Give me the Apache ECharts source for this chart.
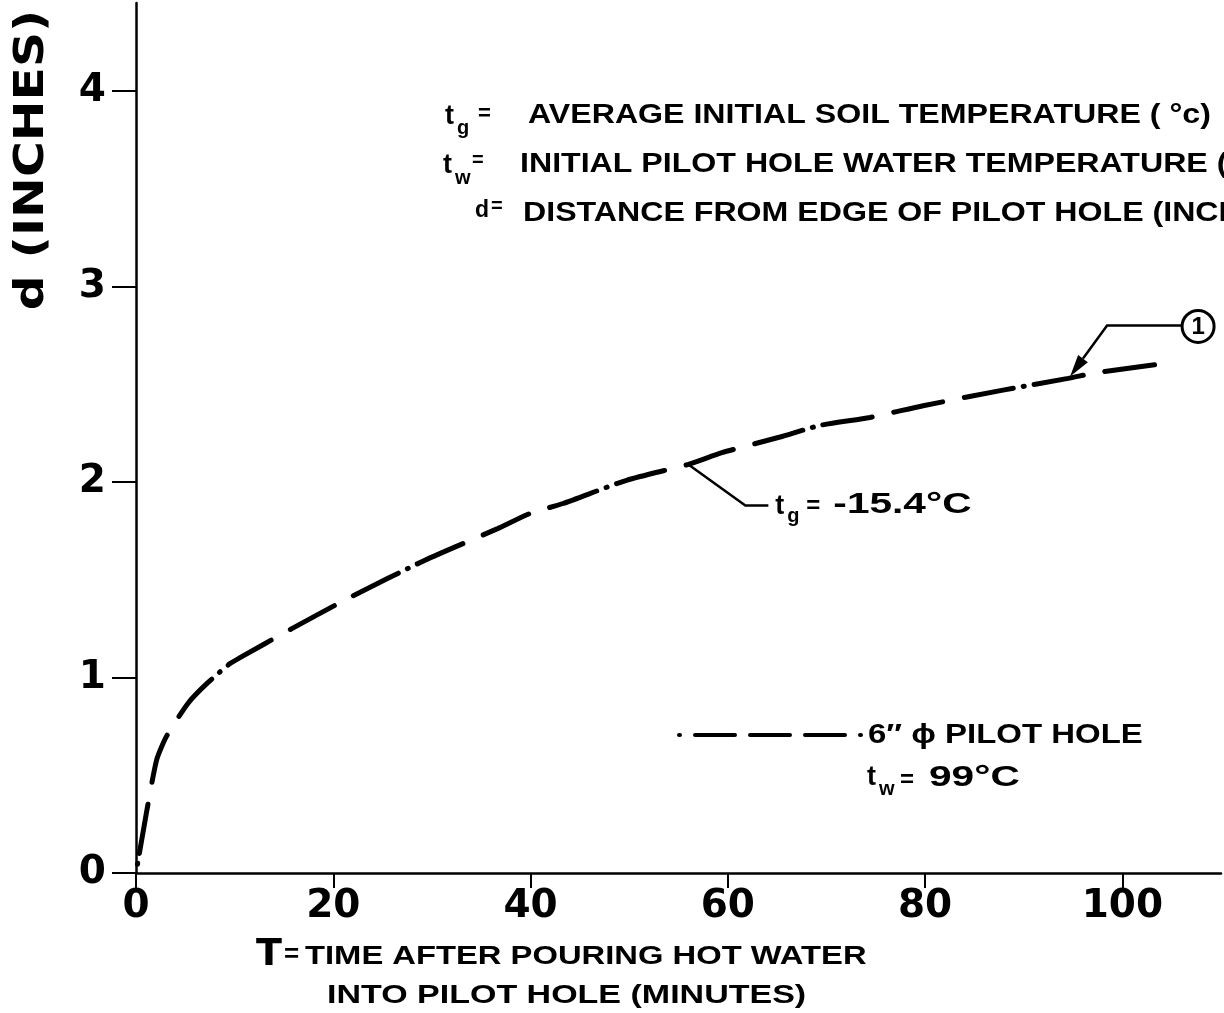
<!DOCTYPE html>
<html><head><meta charset="utf-8">
<script src="https://cdn.jsdelivr.net/npm/echarts@6/dist/echarts.min.js"></script>
<style>html,body{margin:0;padding:0;background:#fff}#c{width:1224px;height:1013px}</style>
</head><body><div id="c"></div>
<script>
// ---- data ----
const timeMin = [0, 1.1, 2.1, 3.1, 5.3, 7.2, 9.5, 10.5, 15.8, 21.7, 29.3, 36.6, 40.0, 43.3, 49.8, 56.0, 59.4, 65.3, 69.4, 74.4, 79.8, 87.9, 94.5, 97.5, 103.3];
const distIn  = [0, 0.32, 0.58, 0.70, 0.87, 0.97, 1.07, 1.10, 1.25, 1.41, 1.60, 1.76, 1.84, 1.89, 2.01, 2.09, 2.15, 2.23, 2.29, 2.33, 2.39, 2.47, 2.53, 2.56, 2.60];
const xTicks = [0, 20, 40, 60, 80, 100];
const yTicks = [0, 1, 2, 3, 4];
const seriesName = '6\u2033 \u03D5 PILOT HOLE';
const tgLabelAt = [56.0, 2.09];     // curve point the "tg = -15.4°C" leader touches
const curveTagAt = [94.7, 2.54];    // curve point the (1) arrow touches

const chart = echarts.init(document.getElementById('c'), null, {renderer: 'canvas'});
const NUMF = '"DejaVu Sans", sans-serif';
const TXTF = '"Liberation Sans", Arial, sans-serif';

chart.setOption({
  backgroundColor: '#fff',
  animation: false,
  grid: {left: 136, right: 3, top: 3, bottom: 140, containLabel: false},
  xAxis: {
    type: 'value', min: 0, max: 110, interval: 20,
    axisLine: {show: true, onZero: false, lineStyle: {color: '#000', width: 2.5}},
    axisTick: {show: true, inside: false, length: 15, customValues: xTicks, lineStyle: {color: '#000', width: 2}},
    axisLabel: {customValues: xTicks, margin: 14, color: '#000', fontFamily: NUMF, fontWeight: 'bold', fontSize: 39},
    splitLine: {show: false}
  },
  yAxis: {
    type: 'value', min: 0, max: 4.45, interval: 1,
    axisLine: {show: true, onZero: false, lineStyle: {color: '#000', width: 2.5}},
    axisTick: {show: true, inside: false, length: 24, customValues: yTicks, lineStyle: {color: '#000', width: 2}},
    axisLabel: {customValues: yTicks, margin: 30, color: '#000', fontFamily: NUMF, fontWeight: 'bold', fontSize: 39},
    splitLine: {show: false}
  },
  legend: {
    show: true, left: 672, top: 725, padding: 5, itemWidth: 186, itemHeight: 10, itemGap: 0,
    data: [seriesName],
    formatter: () => '',
    itemStyle: {opacity: 0},
    textStyle: {color: '#000', fontFamily: TXTF, fontWeight: 'bold', fontSize: 25},
    lineStyle: {type: [1, 15, 40, 15, 40, 15, 40, 15], dashOffset: 0, width: 4, cap: 'round', color: '#000'}
  },
  series: [{
    name: seriesName, type: 'line',
    data: timeMin.map((t, i) => [t, distIn[i]]),
    smooth: 0.2,
    symbol: 'none', showSymbol: false,
    lineStyle: {color: '#000', width: 5, type: [50, 22, 50, 22, 50, 10, 1, 10], dashOffset: 195, cap: 'round'},
    itemStyle: {color: '#000'}
  }]
});

function T(x, y, text, size, sx, extra) {
  return Object.assign({type: 'text', x: x, y: y, silent: true, scaleX: sx || 1, scaleY: 1,
    style: Object.assign({text: text, fill: '#000', font: 'bold ' + size + 'px ' + TXTF, verticalAlign: 'middle', align: 'left'}, extra || {})});
}

const a = chart.convertToPixel({gridIndex: 0}, tgLabelAt);
const b = chart.convertToPixel({gridIndex: 0}, curveTagAt);
// arrowhead geometry
const kx = b[0] + 37, ky = b[1] - 51;
let dx = b[0] - kx, dy = b[1] - ky; const L = Math.hypot(dx, dy); dx /= L; dy /= L;
const al = 22, aw = 6;
const bx = b[0] - al * dx, by = b[1] - al * dy;

const g = [
  // top definitions
  T(445, 117, 't', 27), T(457, 128, 'g', 20), T(478, 114, '=', 22),
  T(528, 116, 'AVERAGE INITIAL SOIL TEMPERATURE ( \u00B0c)', 27, 1.19),
  T(443, 166, 't', 27), T(455, 178, 'w', 20), T(472, 160, '=', 20),
  T(520, 165, 'INITIAL PILOT HOLE WATER TEMPERATURE (\u00B0C)', 27, 1.19),
  T(475, 211, 'd', 23), T(491, 206, '=', 20),
  T(523, 214, 'DISTANCE FROM EDGE OF PILOT HOLE (INCHES)', 27, 1.19),
  // y name
  {type: 'text', x: 33, y: 160, rotation: Math.PI / 2, scaleX: 1.22, silent: true,
   style: {text: 'd (INCHES)', fill: '#000', font: 'bold 40px ' + NUMF, align: 'center', verticalAlign: 'middle'}},
  // x name
  {type: 'text', x: 256, y: 955, silent: true, style: {text: 'T', fill: '#000', font: 'bold 38px ' + NUMF, align: 'left', verticalAlign: 'middle'}},
  T(284, 955, '=', 26),
  T(305, 957, 'TIME AFTER POURING HOT WATER', 25, 1.31),
  T(327, 996, 'INTO PILOT HOLE (MINUTES)', 25, 1.36),
  // legend text
  T(868, 736, seriesName, 27, 1.22),
  // legend second line
  T(867, 778, 't', 27), T(879, 789, 'w', 20), T(900, 780, '=', 24), T(929, 778, '99\u00B0C', 29, 1.4),
  // tg leader + label
  {type: 'polyline', silent: true, shape: {points: [[a[0], a[1]], [a[0] + 57, a[1] + 41], [a[0] + 80, a[1] + 41]]},
   style: {stroke: '#000', lineWidth: 2.5, fill: null}},
  T(a[0] + 87, a[1] + 42, 't', 27), T(a[0] + 99, a[1] + 52, 'g', 20), T(a[0] + 118, a[1] + 42, '=', 24),
  T(a[0] + 145, a[1] + 41, '-15.4\u00B0C', 29, 1.4),
  // (1) tag
  {type: 'polyline', silent: true, shape: {points: [[bx, by], [kx, ky], [kx + 74, ky]]},
   style: {stroke: '#000', lineWidth: 2.5, fill: null}},
  {type: 'polygon', silent: true, shape: {points: [[b[0], b[1]], [bx + aw * dy, by - aw * dx], [bx - aw * dy, by + aw * dx]]},
   style: {fill: '#000'}},
  {type: 'circle', silent: true, shape: {cx: kx + 91, cy: ky + 1, r: 16}, style: {stroke: '#000', lineWidth: 3, fill: '#fff'}},
  T(kx + 91, ky + 2, '1', 24, 1, {align: 'center'})
];
chart.setOption({graphic: g});
</script></body></html>
